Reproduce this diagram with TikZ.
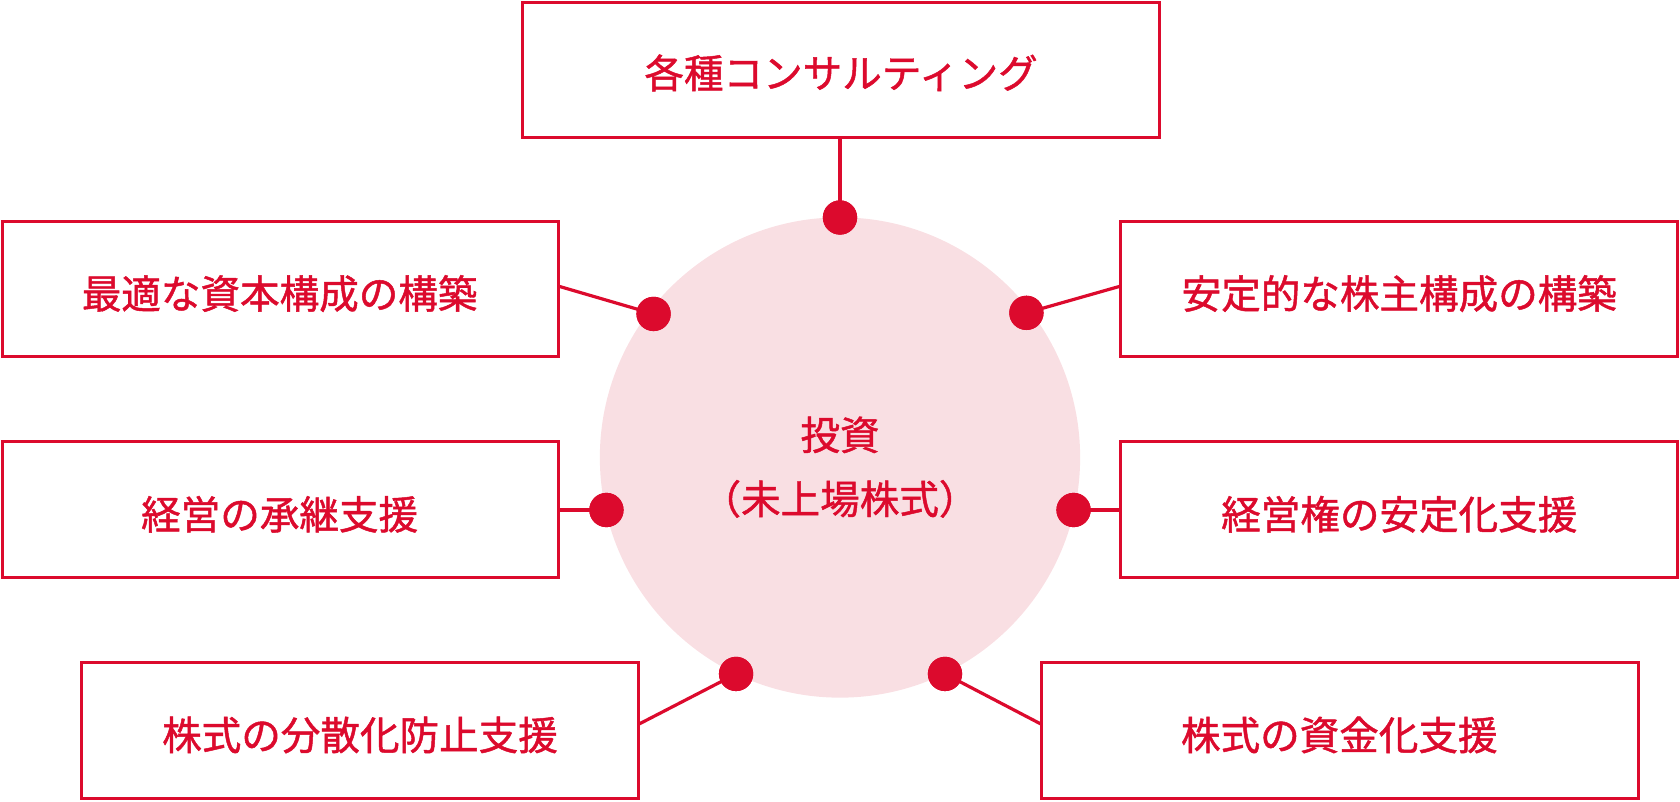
\documentclass[tikz,border=0pt]{standalone}
\usepackage{fontspec}
\setmainfont{Noto Sans CJK JP}[FakeBold=1.2]
\definecolor{jred}{HTML}{DC0A2D}
\definecolor{jpink}{HTML}{F9DFE3}
\begin{document}
\begin{tikzpicture}[x=0.01cm,y=-0.01cm,
  box/.style={draw=jred,line width=0.85pt,fill=white},
  lbl/.style={text=jred,font=\fontsize{10.5pt}{17pt}\selectfont},
  dot/.style={circle,fill=jred,inner sep=0pt,minimum size=0.32cm},
  con/.style={draw=jred,line width=0.85pt}]
\useasboundingbox (0,0) rectangle (1568,748);
\fill[jpink] (784,427) circle[radius=2.24cm];
\node[lbl,align=center] (c) at (784,436) {投資\\（未上場株式）};
% boxes
\draw[box] (488,2) rectangle (1082,128);
\node[lbl] (t0) at (785,68) {各種コンサルティング};
\draw[box] (2,207) rectangle (521,333);
\node[lbl] (t1) at (261,274) {最適な資本構成の構築};
\draw[box] (1046,207) rectangle (1566,333);
\node[lbl] (t2) at (1306,274) {安定的な株主構成の構築};
\draw[box] (2,412) rectangle (521,539);
\node[lbl] (t3) at (261,480) {経営の承継支援};
\draw[box] (1046,412) rectangle (1566,539);
\node[lbl] (t4) at (1306,480) {経営権の安定化支援};
\draw[box] (76,618) rectangle (596,745);
\node[lbl] (t5) at (336,686) {株式の分散化防止支援};
\draw[box] (972,618) rectangle (1529,745);
\node[lbl] (t6) at (1250,686) {株式の資金化支援};
% anchor coordinates
\coordinate (a0) at (784,128);
\coordinate (a1) at (521,267);
\coordinate (a2) at (1046,267);
\coordinate (a3) at (521,476);
\coordinate (a4) at (1046,476);
\coordinate (a5) at (596,676);
\coordinate (a6) at (972,676);
% dots
\node[dot] (d0) at (784,203) {};
\node[dot] (d1) at (610,293) {};
\node[dot] (d2) at (958,292) {};
\node[dot] (d3) at (566,476) {};
\node[dot] (d4) at (1002,476) {};
\node[dot] (d5) at (687,629) {};
\node[dot] (d6) at (882,629) {};
\foreach \i in {0,...,6} \draw[con] (a\i) -- (d\i.center);
\foreach \i in {0,...,6} \node[dot] at (d\i) {};
\end{tikzpicture}
\end{document}
